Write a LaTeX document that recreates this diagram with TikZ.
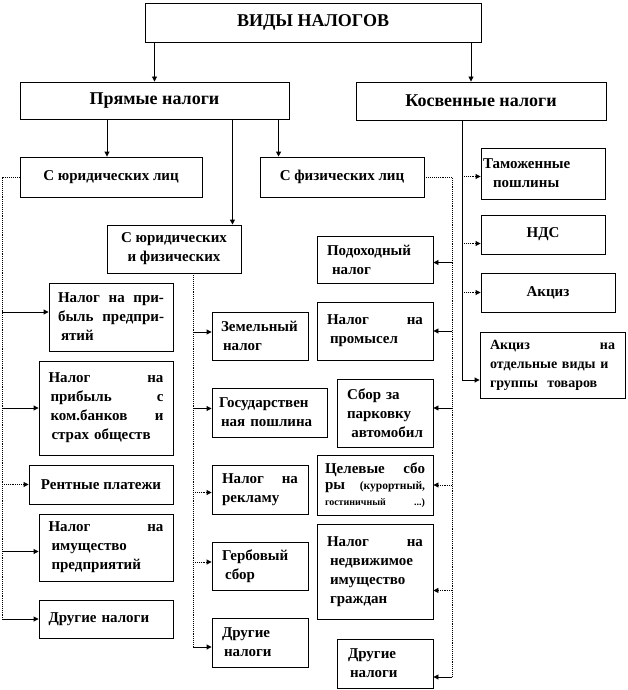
\documentclass[tikz,border=0pt]{standalone}
\usepackage{fontspec}
\setmainfont{Liberation Serif}
\usetikzlibrary{arrows.meta}

\begin{document}
\begin{tikzpicture}[x=1pt, y=-1pt,
    box/.style={draw, line width=0.9pt, inner sep=0pt, font=\fontsize{15}{19}\selectfont\bfseries},
    bigbox/.style={box, font=\fontsize{18}{20}\selectfont\bfseries},
    midbox/.style={box, font=\fontsize{15}{19}\selectfont\bfseries},
    txt/.style={text width=#1, align=left},
    tip/.style={-{Triangle[length=5pt, width=5pt]}, line width=0.9pt},
    dtip/.style={tip, densely dotted},
    dline/.style={line width=0.9pt, densely dotted}]
    \useasboundingbox (0,0) rectangle (628,690);

    % top levels
    \node[bigbox, minimum width=336, minimum height=39] (vid) at (313,22.5) {ВИДЫ НАЛОГОВ};
    \node[bigbox, minimum width=269, minimum height=37] (pryam) at (154.5,100.5) {Прямые налоги};
    \node[bigbox, minimum width=250, minimum height=38] (kosv) at (481,101) {Косвенные налоги};
    \node[midbox, minimum width=182, minimum height=40] (yur) at (111,177) {С юридических лиц};
    \node[midbox, minimum width=164, minimum height=40] (fiz) at (342,177) {С физических лиц};
    \node[midbox, minimum width=134, minimum height=48, align=center] (yurfiz) at (174,249) {С юридических\\и физических};

    % with legal entities
    \node[box, txt=106, minimum width=124, minimum height=68] (pribyl) at (111,317) {Налог \hfill на \hfill при-\\быль \hfill предпри-\\\hspace{3pt}ятий};
    \node[box, txt=115, minimum width=134, minimum height=94] (banki) at (106,408) {Налог \hfill на\\\hspace{2pt}прибыль \hfill с\\\hspace{2pt}ком.банков \hfill и\\\hspace{3pt}страх обществ};
    \node[box, minimum width=144, minimum height=39] (rent) at (101,484.5) {Рентные платежи};
    \node[box, txt=115, minimum width=134, minimum height=67] (imush) at (106,547.5) {Налог \hfill на\\\hspace{3pt}имущество\\\hspace{3pt}предприятий};
    \node[box, txt=115, minimum width=134, minimum height=38] (drug1) at (106,619) {Другие налоги};

    % with both
    \node[box, txt=78, minimum width=96, minimum height=48] (zem) at (260,336) {Земельный\\\hspace{2pt}налог};
    \node[box, txt=101, minimum width=115, minimum height=49] (gos) at (269.5,412.5) {Государствен\\\hspace{2pt}ная пошлина};
    \node[box, txt=76, minimum width=96, minimum height=49] (reklama) at (260,489.5) {Налог \hfill на\\рекламу};
    \node[box, txt=76, minimum width=96, minimum height=48] (gerb) at (260,566) {Гербовый\\\hspace{3pt}сбор};
    \node[box, txt=76, minimum width=96, minimum height=49] (drug2) at (260,642.5) {Другие\\\hspace{2pt}налоги};

    % with individuals
    \node[box, txt=96, minimum width=116, minimum height=47] (podoh) at (375,259.5) {Подоходный\\\hspace{5pt}налог};
    \node[box, txt=96, minimum width=116, minimum height=58] (promysel) at (375,331) {Налог \hfill на\\\hspace{3pt}промысел};
    \node[box, txt=76, minimum width=96, minimum height=68] (parkovka) at (385,413) {Сбор за\\парковку\\\hfill автомобил};
    \node[box, txt=100, minimum width=116, minimum height=60, font=\fontsize{15}{16}\selectfont\bfseries] (celevye) at (375,485) {Целевые \hfill сбо\\ры \hfill{\fontsize{11.5}{16}\selectfont(курортный,}\\{\fontsize{10}{16}\selectfont гостиничный \hfill ...)}};
    \node[box, txt=96, minimum width=116, minimum height=95] (nedvizh) at (375,571.5) {Налог \hfill на\\\hspace{3pt}недвижимое\\\hspace{3pt}имущество\\\hspace{3pt}граждан};
    \node[box, txt=74, minimum width=96, minimum height=49] (drug3) at (385,663.5) {Другие\\\hspace{2pt}налоги};

    % indirect
    \node[box, txt=120, minimum width=124, minimum height=51] (tamozh) at (543,173.5) {Таможенные\\\hspace{10pt}пошлины};
    \node[box, minimum width=124, minimum height=39] (nds) at (543,234.5) {НДС};
    \node[box, minimum width=134, minimum height=39] (akciz) at (548,292.5) {Акциз};
    \node[box, txt=125, minimum width=145, minimum height=66, font=\fontsize{14}{19}\selectfont\bfseries] (akcizotd) at (552.5,365) {Акциз \hfill на\\отдельные виды и\\группы \ товаров};

    % arrows from the top
    \draw[tip] (vid.south -| pryam.north) -- (pryam.north);
    \draw[tip] ([xshift=-10pt]kosv.north |- vid.south) -- ([xshift=-10pt]kosv.north);
    \draw[tip] ([xshift=-4pt]yur.north |- pryam.south) -- ([xshift=-4pt]yur.north);
    \draw[tip] ([xshift=-9pt]yurfiz.north east |- pryam.south) -- ([xshift=-9pt]yurfiz.north east);
    \draw[tip] ([xshift=19pt]fiz.north west |- pryam.south) -- ([xshift=19pt]fiz.north west);

    % left trunk
    \coordinate (lt) at (2,619);
    \draw[dline] (yur.west) -| (lt);
    \draw[tip] ([yshift=5pt]pribyl.west -| lt) -- ([yshift=5pt]pribyl.west);
    \draw[tip] (banki.west -| lt) -- (banki.west);
    \draw[dtip] (rent.west -| lt) -- (rent.west);
    \draw[tip] ([yshift=-4pt]imush.west -| lt) -- ([yshift=-4pt]imush.west);
    \draw[tip] (lt) -- (drug1.west);

    % middle trunk
    \coordinate (mt) at (193,647);
    \draw[dline] (yurfiz.south -| mt) -- (mt);
    \draw[tip] ([yshift=4pt]zem.west -| mt) -- ([yshift=4pt]zem.west);
    \draw[tip] ([yshift=4pt]gos.west -| mt) -- ([yshift=4pt]gos.west);
    \draw[dtip] ([yshift=-3pt]reklama.west -| mt) -- ([yshift=-3pt]reklama.west);
    \draw[dtip] ([yshift=4pt]gerb.west -| mt) -- ([yshift=4pt]gerb.west);
    \draw[tip] (mt) -- (mt -| drug2.west);

    % right trunk
    \coordinate (rt) at (452,677);
    \draw[dline] (fiz.east) -| (rt);
    \draw[tip] ([yshift=-3pt]podoh.east -| rt) -- ([yshift=-3pt]podoh.east);
    \draw[tip] (promysel.east -| rt) -- (promysel.east);
    \draw[tip] ([yshift=5pt]parkovka.east -| rt) -- ([yshift=5pt]parkovka.east);
    \draw[dtip] (celevye.east -| rt) -- (celevye.east);
    \draw[dtip] ([yshift=29pt]nedvizh.south east -| rt) -- ([yshift=29pt]nedvizh.south east);
    \draw[tip] (rt) -- (rt -| drug3.east);

    % indirect trunk
    \coordinate (kt) at (462,380);
    \draw[line width=0.9pt] (kosv.south -| kt) -- (kt);
    \draw[dtip] ([yshift=-3pt]tamozh.west -| kt) -- ([yshift=-3pt]tamozh.west);
    \draw[dtip] ([yshift=-9pt]nds.west -| kt) -- ([yshift=-9pt]nds.west);
    \draw[dtip] (akciz.west -| kt) -- (akciz.west);
    \draw[tip] (kt) -- (kt -| akcizotd.west);
\end{tikzpicture}
\end{document}
